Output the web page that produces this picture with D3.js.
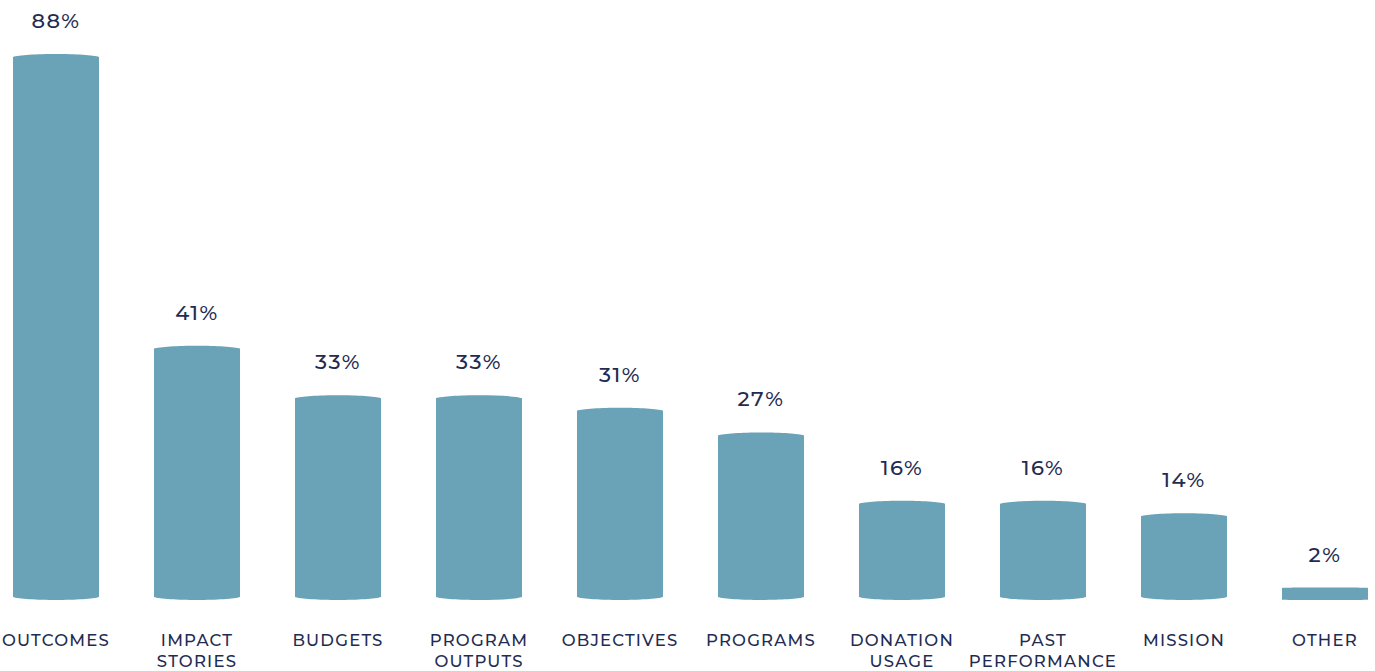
<!DOCTYPE html>
<html>
  <head>
    <title>Bar Chart</title>
    <script type="text/javascript" src="https://d3js.org/d3.v7.min.js"></script>
    <style>
      body { margin: 0; background: #fff; }
      text { font-family: "Montserrat", "Lato", "DejaVu Sans", sans-serif; fill: #1f2c52; font-weight: 500; }
      .cat { font-size: 16.5px; letter-spacing: 1.2px; }
      .val { font-size: 21px; letter-spacing: 1.5px; }
    </style>
  </head>
  <body>
    <svg width="1375" height="671" class="bars"></svg>

    <script type="text/javascript">
      var categories = ['OUTCOMES', 'IMPACT STORIES', 'BUDGETS', 'PROGRAM OUTPUTS', 'OBJECTIVES',
                        'PROGRAMS', 'DONATION USAGE', 'PAST PERFORMANCE', 'MISSION', 'OTHER'];
      var values = [88, 41, 33, 33, 31, 27, 16, 16, 14, 2];
      var labelLines = [['OUTCOMES'], ['IMPACT', 'STORIES'], ['BUDGETS'], ['PROGRAM', 'OUTPUTS'],
                        ['OBJECTIVES'], ['PROGRAMS'], ['DONATION', 'USAGE'], ['PAST', 'PERFORMANCE'],
                        ['MISSION'], ['OTHER']];

      var data = categories.map(function(c, i) {
        return { cat: c, value: values[i], lines: labelLines[i] };
      });

      var x = d3.scaleBand()
                .domain(categories)
                .range([13, 1368])
                .paddingInner(0.39)
                .paddingOuter(0);

      var y = d3.scaleLinear()
                .domain([0, 88])
                .range([600, 54]);

      var svg = d3.select('svg.bars');

      // bars: flat sides, gently rounded top and bottom edges
      function barPath(d) {
        var x0 = x(d.cat), x1 = x0 + x.bandwidth(), w = x1 - x0;
        var top = y(d.value), bot = y(0);
        var c = d.value < 5 ? 0.3 : 3;
        return 'M' + x0 + ',' + (top + c) +
               ' C' + (x0 + w * 0.12) + ',' + (top - c * 0.3) + ' ' + (x1 - w * 0.12) + ',' + (top - c * 0.3) + ' ' + x1 + ',' + (top + c) +
               ' L' + x1 + ',' + (bot - c) +
               ' C' + (x1 - w * 0.12) + ',' + (bot + c * 0.3) + ' ' + (x0 + w * 0.12) + ',' + (bot + c * 0.3) + ' ' + x0 + ',' + (bot - c) + ' Z';
      }

      svg.selectAll('path.bar')
         .data(data)
         .enter()
         .append('path')
         .attr('class', 'bar')
         .attr('d', barPath)
         .attr('fill', '#6aa3b8');

      svg.selectAll('text.val')
         .data(data)
         .enter()
         .append('text')
         .attr('class', 'val')
         .attr('x', function(d) { return x(d.cat) + x.bandwidth() / 2; })
         .attr('y', function(d) { return y(d.value) - 26; })
         .attr('text-anchor', 'middle')
         .text(function(d) { return d.value + '%'; });

      var cats = svg.selectAll('text.cat')
         .data(data)
         .enter()
         .append('text')
         .attr('class', 'cat')
         .attr('text-anchor', 'middle')
         .attr('x', function(d) { return x(d.cat) + x.bandwidth() / 2; })
         .attr('y', 646);

      cats.selectAll('tspan')
          .data(function(d) { return d.lines.map(function(l) { return { l: l, cx: x(d.cat) + x.bandwidth() / 2 }; }); })
          .enter()
          .append('tspan')
          .attr('x', function(d) { return d.cx; })
          .attr('dy', function(d, i) { return i === 0 ? 0 : 21; })
          .text(function(d) { return d.l; });
    </script>
  </body>
</html>
